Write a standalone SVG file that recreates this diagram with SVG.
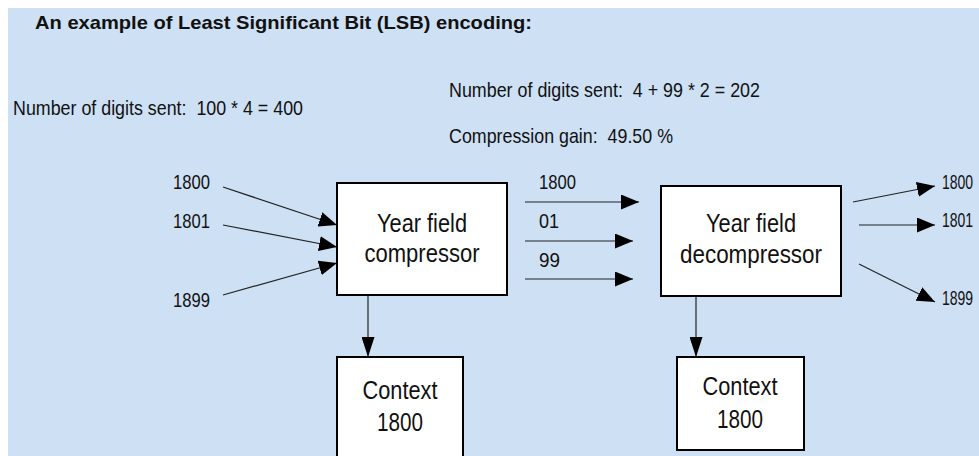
<svg xmlns="http://www.w3.org/2000/svg" width="979" height="456" viewBox="0 0 979 456">
<defs>
<style>
.t{font-family:"Liberation Sans",Arial,sans-serif;fill:#111;white-space:pre;}
.title{font-size:19px;font-weight:bold;}
.info{font-size:21px;}
.lbl{font-size:20px;}
.box{fill:#fff;stroke:#000;stroke-width:2;}
.bt{font-size:25px;text-anchor:middle;}
.c{stroke:#222;stroke-width:1.2;fill:none;marker-end:url(#ah);}
.cv{stroke:#222;stroke-width:1.2;fill:none;marker-end:url(#av);}
</style>
<marker id="ah" markerUnits="userSpaceOnUse" markerWidth="19" markerHeight="15" refX="18" refY="7.5" orient="auto">
<path d="M0,0 L18,7.5 L0,15 Z" fill="#000"/>
</marker>
<marker id="av" markerUnits="userSpaceOnUse" markerWidth="21" markerHeight="13" refX="20" refY="6.5" orient="auto">
<path d="M0,0 L20,6.5 L0,13 Z" fill="#000"/>
</marker>
</defs>
<rect x="0" y="0" width="979" height="456" fill="#fff"/>
<rect x="8" y="8" width="971" height="448" fill="#cee0f4"/>

<g id="title">
<text class="t title" x="35" y="29" textLength="497" lengthAdjust="spacingAndGlyphs">An example of Least Significant Bit (LSB) encoding:</text>
</g>
<g id="stats">
<text class="t info" x="13" y="115" textLength="290" lengthAdjust="spacingAndGlyphs" xml:space="preserve">Number of digits sent:  100 * 4 = 400</text>
<text class="t info" x="449" y="97" textLength="311" lengthAdjust="spacingAndGlyphs" xml:space="preserve">Number of digits sent:  4 + 99 * 2 = 202</text>
<text class="t info" x="449" y="143" textLength="224" lengthAdjust="spacingAndGlyphs" xml:space="preserve">Compression gain:  49.50 %</text>
</g>

<g id="connectors">
<line class="c" x1="223" y1="187" x2="337" y2="225"/>
<line class="c" x1="223" y1="225" x2="337" y2="247"/>
<line class="c" x1="223" y1="295" x2="337" y2="263"/>
<line class="c" x1="525" y1="202" x2="639" y2="202"/>
<line class="c" x1="525" y1="241" x2="633" y2="241"/>
<line class="c" x1="525" y1="279" x2="633" y2="279"/>
<line class="c" x1="853" y1="202" x2="935" y2="186"/>
<line class="c" x1="859" y1="225" x2="935" y2="225"/>
<line class="c" x1="859" y1="264" x2="935" y2="302"/>
<line class="cv" x1="368" y1="296" x2="368" y2="357"/>
<line class="cv" x1="696" y1="297" x2="696" y2="357"/>
</g>

<g id="input-labels">
<text class="t lbl" x="173" y="189" textLength="37" lengthAdjust="spacingAndGlyphs">1800</text>
<text class="t lbl" x="173" y="228" textLength="37" lengthAdjust="spacingAndGlyphs">1801</text>
<text class="t lbl" x="173" y="307" textLength="37" lengthAdjust="spacingAndGlyphs">1899</text>
</g>
<g id="sent-labels">
<text class="t lbl" x="539" y="189" textLength="37" lengthAdjust="spacingAndGlyphs">1800</text>
<text class="t lbl" x="539" y="228" textLength="20" lengthAdjust="spacingAndGlyphs">01</text>
<text class="t lbl" x="539" y="267" textLength="21" lengthAdjust="spacingAndGlyphs">99</text>
</g>
<g id="output-labels">
<text class="t lbl" transform="translate(942 189) scale(0.7 1)" x="0" y="0">1800</text>
<text class="t lbl" transform="translate(942 227) scale(0.7 1)" x="0" y="0">1801</text>
<text class="t lbl" transform="translate(942 305) scale(0.7 1)" x="0" y="0">1899</text>
</g>

<g id="compressor">
<rect class="box" x="337" y="183" width="170" height="112"/>
<text class="t bt" x="422" y="232" textLength="90" lengthAdjust="spacingAndGlyphs">Year field</text>
<text class="t bt" x="422" y="262" textLength="115" lengthAdjust="spacingAndGlyphs">compressor</text>
</g>
<g id="decompressor">
<rect class="box" x="661" y="186" width="180" height="110"/>
<text class="t bt" x="751" y="232" textLength="90" lengthAdjust="spacingAndGlyphs">Year field</text>
<text class="t bt" x="751" y="263" textLength="142" lengthAdjust="spacingAndGlyphs">decompressor</text>
</g>
<g id="context-left">
<rect class="box" x="337" y="357" width="126" height="110"/>
<text class="t bt" x="400" y="399" textLength="75" lengthAdjust="spacingAndGlyphs">Context</text>
<text class="t bt" x="400" y="431" textLength="46" lengthAdjust="spacingAndGlyphs">1800</text>
</g>
<g id="context-right">
<rect class="box" x="677" y="357" width="127" height="93"/>
<text class="t bt" x="740" y="395" textLength="75" lengthAdjust="spacingAndGlyphs">Context</text>
<text class="t bt" x="740" y="428" textLength="46" lengthAdjust="spacingAndGlyphs">1800</text>
</g>
</svg>
